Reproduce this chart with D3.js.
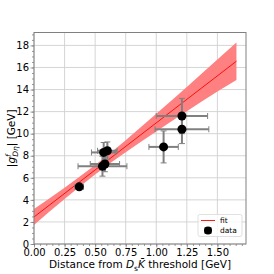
<!DOCTYPE html>
<html>
<head>
<meta charset="utf-8">
<script src="https://cdn.jsdelivr.net/npm/d3@7"></script>
<style>
  body { margin: 0; background: #fff; }
  text { font-family: "DejaVu Sans", sans-serif; }
</style>
</head>
<body>
<svg width="274" height="274"></svg>
<script>
// data
var pointX = [0.37, 0.57, 0.60, 0.56, 0.58, 1.06, 1.21, 1.21];
var pointY = [5.18, 8.30, 8.45, 7.05, 7.25, 8.80, 10.40, 11.60];
var pointXErr = [0.035, 0.10, 0.08, 0.20, 0.12, 0.12, 0.22, 0.21];
var pointYErr = [0.25, 0.90, 0.80, 0.90, 0.70, 1.45, 1.30, 1.60];

var fitX = [0, 1.656];
var fitY = [2.45, 16.57];

var bandX = [0, 0.25, 0.5, 0.75, 1.0, 1.25, 1.5, 1.656];
var bandLow = [1.73, 4.09, 6.31, 8.31, 10.2, 12.04, 13.83, 14.87];
var bandHigh = [3.17, 5.09, 7.15, 9.41, 11.8, 14.24, 16.73, 18.27];

var xTicks = [0, 0.25, 0.5, 0.75, 1.0, 1.25, 1.5];
var yTicks = [0, 2, 4, 6, 8, 10, 12, 14, 16, 18];

var svg = d3.select("svg"),
    margin = {top: 32.5, right: 28, bottom: 30, left: 34},
    width = +svg.attr("width") - margin.left - margin.right,
    height = +svg.attr("height") - margin.top - margin.bottom,
    g = svg.append("g").attr("transform", "translate(" + margin.left + "," + margin.top + ")");

var x = d3.scaleLinear().domain([0, 1.734]).range([0, width]);
var y = d3.scaleLinear().domain([0, 19.17]).range([height, 0]);

// grid
g.append("g").selectAll("line").data(xTicks).join("line")
  .attr("x1", d => x(d)).attr("x2", d => x(d))
  .attr("y1", 0).attr("y2", height)
  .attr("stroke", "#d0d0d0").attr("stroke-width", 0.9);
g.append("g").selectAll("line").data(yTicks).join("line")
  .attr("x1", 0).attr("x2", width)
  .attr("y1", d => y(d)).attr("y2", d => y(d))
  .attr("stroke", "#d0d0d0").attr("stroke-width", 0.9);

// axes
var xMinor = d3.range(0, 1.7341, 0.05);
var yMinor = d3.range(0, 19.17, 0.5);

var xAxis = g.append("g")
  .attr("transform", "translate(0," + height + ")")
  .call(d3.axisBottom(x).tickValues(xTicks).tickFormat(d3.format(".2f")).tickSize(3.5).tickPadding(1.5));
var yAxis = g.append("g")
  .call(d3.axisLeft(y).tickValues(yTicks).tickSize(3.5).tickPadding(1.5));

g.append("g").attr("transform", "translate(0," + height + ")")
  .call(d3.axisBottom(x).tickValues(xMinor).tickFormat("").tickSize(2).tickSizeOuter(0))
  .select(".domain").remove();
g.append("g")
  .call(d3.axisLeft(y).tickValues(yMinor).tickFormat("").tickSize(2).tickSizeOuter(0))
  .select(".domain").remove();

svg.selectAll(".tick line").attr("stroke", "#808080").attr("stroke-width", 0.8);
svg.selectAll(".domain").remove();
svg.selectAll(".tick text").attr("font-size", 10).attr("fill", "#000");

// band and fit line
var band = bandX.map((d, i) => ({x: d, lo: bandLow[i], hi: bandHigh[i]}));
g.append("path")
  .datum(band)
  .attr("fill", "#ff8080")
  .attr("d", d3.area().x(d => x(d.x)).y0(d => y(d.lo)).y1(d => y(d.hi)).curve(d3.curveMonotoneX));

var fit = fitX.map((d, i) => ({x: d, y: fitY[i]}));
g.append("path")
  .datum(fit)
  .attr("fill", "none")
  .attr("stroke", "#ff0000")
  .attr("stroke-width", 0.9)
  .attr("d", d3.line().x(d => x(d.x)).y(d => y(d.y)));

// error bars
var pts = pointX.map((d, i) => ({x: d, y: pointY[i], ex: pointXErr[i], ey: pointYErr[i]}));
var eb = g.append("g").attr("stroke", "#808080").attr("stroke-width", 2);
pts.forEach(function(p) {
  eb.append("line").attr("x1", x(p.x - p.ex)).attr("x2", x(p.x + p.ex)).attr("y1", y(p.y)).attr("y2", y(p.y));
  eb.append("line").attr("x1", x(p.x)).attr("x2", x(p.x)).attr("y1", y(p.y - p.ey)).attr("y2", y(p.y + p.ey));
  [p.x - p.ex, p.x + p.ex].forEach(function(c) {
    eb.append("line").attr("x1", x(c)).attr("x2", x(c)).attr("y1", y(p.y) - 3).attr("y2", y(p.y) + 3).attr("stroke-width", 1);
  });
  [p.y - p.ey, p.y + p.ey].forEach(function(c) {
    eb.append("line").attr("x1", x(p.x) - 3).attr("x2", x(p.x) + 3).attr("y1", y(c)).attr("y2", y(c)).attr("stroke-width", 1);
  });
});

g.append("g").selectAll("circle").data(pts).join("circle")
  .attr("cx", d => x(d.x)).attr("cy", d => y(d.y))
  .attr("r", 4.5).attr("fill", "#000");

// frame
g.append("rect").attr("width", width).attr("height", height)
  .attr("fill", "none").attr("stroke", "#808080").attr("stroke-width", 1);

// legend
var leg = g.append("g").attr("transform", "translate(" + (width - 48) + "," + (height - 29.5) + ")");
leg.append("rect").attr("width", 44).attr("height", 22).attr("rx", 2)
  .attr("fill", "#fff").attr("fill-opacity", 0.8).attr("stroke", "#d8d8d8").attr("stroke-width", 0.8);
leg.append("line").attr("x1", 3).attr("x2", 17).attr("y1", 6).attr("y2", 6)
  .attr("stroke", "#ff0000").attr("stroke-width", 0.9);
leg.append("rect").attr("x", 6.5).attr("y", 12.5).attr("width", 7).attr("height", 7).attr("fill", "#808080");
leg.append("circle").attr("cx", 10).attr("cy", 16).attr("r", 4).attr("fill", "#000");
leg.append("text").attr("x", 22).attr("y", 8.7).attr("font-size", 7.5).text("fit");
leg.append("text").attr("x", 22).attr("y", 18.7).attr("font-size", 7.5).text("data");

// axis labels
var xl = svg.append("text")
  .attr("x", margin.left + width / 2).attr("y", 268)
  .attr("text-anchor", "middle").attr("font-size", 10.5);
xl.append("tspan").text("Distance from ");
xl.append("tspan").attr("font-style", "italic").text("D");
xl.append("tspan").attr("font-size", 7.5).attr("dy", 2.5).text("s");
xl.append("tspan").attr("dy", -2.5).attr("font-style", "italic").text("K\u0304");
xl.append("tspan").text(" threshold [GeV]");

var yl = svg.append("text")
  .attr("transform", "translate(15," + (margin.top + height / 2) + ") rotate(-90)")
  .attr("text-anchor", "middle").attr("font-size", 10.5);
yl.append("tspan").text("|");
yl.append("tspan").attr("font-style", "italic").text("g");
yl.append("tspan").attr("font-style", "italic").attr("font-size", 7.5).attr("dy", -4).text("f");
yl.append("tspan").attr("font-style", "italic").attr("font-size", 7.5).attr("dx", -2.5).attr("dy", 7).text("D\u03b7");
yl.append("tspan").attr("dy", -3).text("| [GeV]");
</script>
</body>
</html>
